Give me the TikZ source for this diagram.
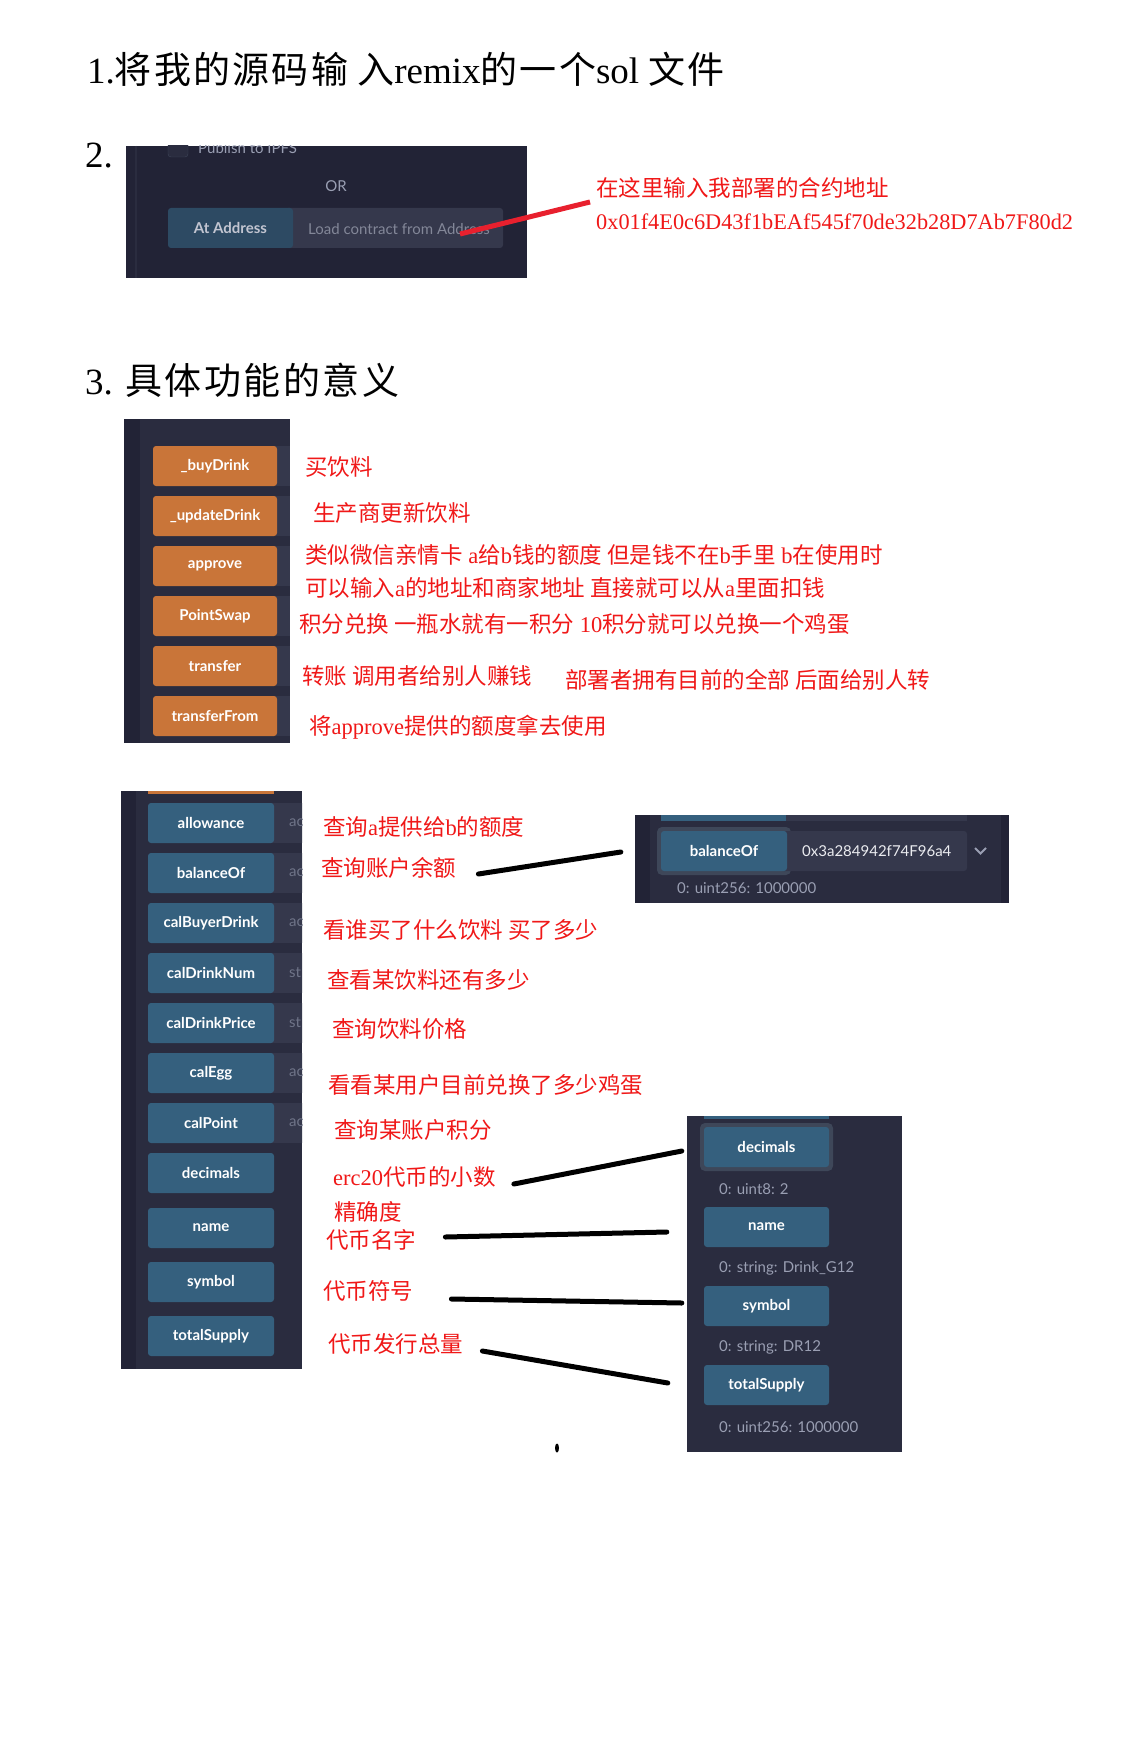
\documentclass[tikz,border=0pt]{standalone}
\usepackage{fontspec}
\setmainfont{Liberation Serif}
\newfontfamily\cjk{Noto Sans CJK SC}
\newfontfamily\cjkwide{Noto Sans CJK SC}[LetterSpace=6]
\newfontfamily\ui{Lato}
\newcommand\zh[1]{{\cjk #1}}
\newcommand\zhw[1]{{\cjkwide #1}}

\definecolor{remixbg}{HTML}{222336}
\definecolor{remixpanel}{HTML}{2A2C3F}
\definecolor{inputbg}{HTML}{35384C}
\definecolor{btnblue}{HTML}{35607E}
\definecolor{atblue}{HTML}{2D4A63}
\definecolor{btnorange}{HTML}{C97539}
\definecolor{ringgrey}{HTML}{3E4759}
\definecolor{uigrey}{HTML}{9A9FB3}
\definecolor{dimgrey}{HTML}{6F7488}
\definecolor{notered}{HTML}{F01818}
\definecolor{penred}{HTML}{E8202E}

\tikzset{
  heading/.style={anchor=base west, inner sep=0pt, font=\fontsize{37}{44}\selectfont},
  note/.style={anchor=west, inner sep=0pt, text=notered, font=\fontsize{22.5}{26}\selectfont},
  orangebtn/.style={fill=btnorange, rounded corners=3pt, minimum width=124pt, minimum height=40pt,
    inner sep=0pt, text=white, font=\ui\bfseries\fontsize{15}{18}\selectfont},
  bluebtn/.style={fill=btnblue, rounded corners=3pt, minimum width=126pt, minimum height=40pt,
    inner sep=0pt, text=white, font=\ui\bfseries\fontsize{15}{18}\selectfont},
  result/.style={anchor=west, inner sep=0pt, text=uigrey, font=\ui\fontsize{15}{18}\selectfont},
  argtext/.style={anchor=west, inner sep=0pt, text=dimgrey, font=\ui\fontsize{15}{18}\selectfont},
  pen/.style={line width=5pt, line cap=round},
  redpen/.style={penred, line width=5pt},
}

\begin{document}
\begin{tikzpicture}[x=1pt,y=-1pt]
\useasboundingbox (0,0) rectangle (1126,1760);
\fill[white] (0,0) rectangle (1126,1760);

\node[heading] (h1) at (87,84) {1.\zhw{将我的源码输} \zhw{入}remix\zhw{的一个}sol \zhw{文件}};
\node[heading] (h2) at (85,168) {2.};
\node[heading] (h3) at (85,394) {3. \zh{具\kern2.5pt 体\kern2.5pt 功\kern2.5pt 能\kern2.5pt 的\kern2.5pt 意\kern2.5pt 义}};

% at address screenshot
\fill[remixbg] (126,146) rectangle (527,278);
\draw[remixpanel, line width=1.5pt] (136,146) -- (136,278);
\begin{scope}
  \clip (126,146) rectangle (527,278);
  \draw[ringgrey, fill=remixpanel, rounded corners=3pt] (168,138) rectangle (188,157);
  \node[result, anchor=base west] (ipfs) at (198,154) {Publish to IPFS};
\end{scope}
\node[result, anchor=center] (or) at (336,186) {OR};
\fill[inputbg, rounded corners=3pt] (285,208) rectangle (503,248);
\node[bluebtn, fill=atblue, minimum width=125pt, text=uigrey!60!white] (atbtn) at (230.5,228) {At Address};
\node[result, text=uigrey!85!black] (loadtxt) at (308,229) {Load contract from Address};

\node[note] (addrnote) at (596,188) {\zh{在这里输入我部署的合约地址}};
\node[note, font=\fontsize{22.3}{26}\selectfont] (addr) at (596,222) {0x01f4E0c6D43f1bEAf545f70de32b28D7Ab7F80d2};
\draw[redpen] ([xshift=-30pt,yshift=-5pt]loadtxt.east) -- ([xshift=-6pt,yshift=-14pt]addrnote.west);

% write functions
\fill[remixpanel] (124,419) rectangle (290,743);
\fill[remixbg] (124,419) rectangle (140,743);
\foreach \fn [count=\i from 0] in {\_buyDrink,\_updateDrink,approve,PointSwap,transfer,transferFrom}
{
  \fill[inputbg] (270,{446+50*\i}) rectangle (290,{486+50*\i});
  \node[orangebtn] (ofn\i) at (215,{466+50*\i}) {\fn};
}

\node[note] (nbuy) at (305,467) {\zh{买饮料}};
\node[note] (nupd) at (313,513) {\zh{生产商更新饮料}};
\node[note] (napp) at (305,555) {\zh{类似微信亲情卡} a\zh{给}b\zh{钱的额度 但是钱不在}b\zh{手里} b\zh{在使用时}};
\node[note] (napp2) at (305,588) {\zh{可以输入}a\zh{的地址和商家地址 直接就可以从}a\zh{里面扣钱}};
\node[note] (nswap) at (299,624) {\zh{积分兑换 一瓶水就有一积分} 10\zh{积分就可以兑换一个鸡蛋}};
\node[note] (ntr) at (302,676) {\zh{转账 调用者给别人赚钱}};
\node[note] (ntr2) at (565,680) {\zh{部署者拥有目前的全部 后面给别人转}};
\node[note] (ntrf) at (309,727) {\zh{将}approve\zh{提供的额度拿去使用}};

% read functions
\fill[remixpanel] (121,791) rectangle (302,1369);
\fill[remixbg] (121,791) rectangle (136,1369);
\fill[btnorange] (148,791) rectangle (274,794);
\begin{scope}
  \clip (121,791) rectangle (302,1369);
  \foreach \prefix [count=\i from 0] in {ac,ac,ac,st,st,ac,ac}
  {
    \fill[inputbg] (268,{803+50*\i}) rectangle (310,{843+50*\i});
    \node[argtext] (arg\i) at (289,{823+50*\i}) {\prefix};
  }
\end{scope}
\foreach \fn [count=\i from 0] in {allowance,balanceOf,calBuyerDrink,calDrinkNum,calDrinkPrice,calEgg,calPoint,decimals}
  \node[bluebtn] (bfn\i) at (211,{823+50*\i}) {\fn};
\node[bluebtn] (bname) at (211,1228) {name};
\node[bluebtn] (bsym) at (211,1282) {symbol};
\node[bluebtn] (btot) at (211,1336) {totalSupply};

\node[note] (lallow) at (323,827) {\zh{查询}a\zh{提供给}b\zh{的额度}};
\node[note] (lbal) at (321,868) {\zh{查询账户余额}};
\node[note] (lbuyer) at (323,930) {\zh{看谁买了什么饮料 买了多少}};
\node[note] (lnum) at (327,980) {\zh{查看某饮料还有多少}};
\node[note] (lprice) at (332,1029) {\zh{查询饮料价格}};
\node[note] (legg) at (328,1085) {\zh{看看某用户目前兑换了多少鸡蛋}};
\node[note] (lpoint) at (334,1130) {\zh{查询某账户积分}};
\node[note] (ldec) at (333,1177) {erc20\zh{代币的小数}};
\node[note] (ldec2) at (334,1212) {\zh{精确度}};
\node[note] (lname) at (326,1240) {\zh{代币名字}};
\node[note] (lsym) at (323,1291) {\zh{代币符号}};
\node[note] (ltot) at (328,1344) {\zh{代币发行总量}};

% balanceOf result
\fill[remixpanel] (635,815) rectangle (1009,903);
\fill[remixbg] (635,815) rectangle (650,903);
\fill[remixbg] (1001,815) rectangle (1009,903);
\fill[btnblue] (661,815) rectangle (786,821);
\fill[inputbg] (786,815) rectangle (967,821);
\fill[ringgrey, rounded corners=5pt] (657,827) rectangle (791,875);
\fill[inputbg, rounded corners=3pt] (780,831) rectangle (967,871);
\node[bluebtn] (rbal) at (724,851) {balanceOf};
\begin{scope}
  \clip (787,831) rectangle (952,871);
  \node[result, text=white!80!uigrey] (baladdr) at (802,851) {0x3a284942f74F96a4};
\end{scope}
\draw[uigrey, line width=2pt] (975,848) -- (980.5,853.5) -- (986,848);
\node[result] (balres) at (677,888) {0: uint256: 1000000};

% token info results
\fill[remixpanel] (687,1116) rectangle (902,1452);
\fill[btnblue] (704,1116) rectangle (829,1119);
\fill[ringgrey, rounded corners=5pt] (700,1123) rectangle (833,1171);
\node[bluebtn, minimum width=125pt] (rdec) at (766.5,1147) {decimals};
\node[result] (decres) at (719,1189) {0: uint8: 2};
\node[bluebtn, minimum width=125pt] (rname) at (766.5,1227) {name};
\node[result] (nameres) at (719,1268) {0: string: Drink\_G12};
\node[bluebtn, minimum width=125pt] (rsym) at (766.5,1306) {symbol};
\node[result] (symres) at (719,1347) {0: string: DR12};
\node[bluebtn, minimum width=125pt] (rtot) at (766.5,1385) {totalSupply};
\node[result] (totres) at (719,1427) {0: uint256: 1000000};

\draw[pen] ([xshift=22pt,yshift=-6pt]lbal.east) -- ([xshift=-40pt,yshift=-1pt]rbal.west);
\draw[pen] ([xshift=18pt,yshift=-7pt]ldec.east) -- ([xshift=-22pt,yshift=-4pt]rdec.west);
\draw[pen] ([xshift=29pt,yshift=3pt]lname.east) -- ([xshift=-37pt,yshift=-5pt]rname.west);
\draw[pen] ([xshift=38pt,yshift=-8pt]lsym.east) -- ([xshift=-22pt,yshift=3pt]rsym.west);
\draw[pen] ([xshift=19pt,yshift=-7pt]ltot.east) -- ([xshift=-36pt,yshift=2pt]rtot.west);

\fill (557,1448) ellipse [x radius=2pt, y radius=4.5pt];
\end{tikzpicture}
\end{document}
